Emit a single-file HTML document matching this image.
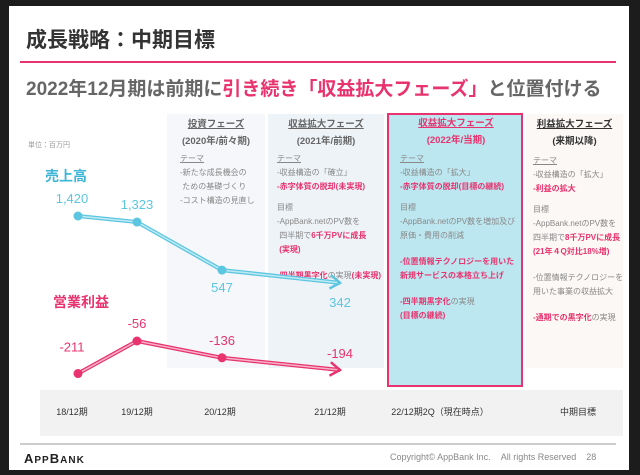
<!DOCTYPE html>
<html><head><meta charset="utf-8">
<style>
*{margin:0;padding:0;box-sizing:border-box}
body{width:640px;height:475px;background:#1c1c1c;font-family:"Liberation Sans","Noto Sans CJK JP",sans-serif;position:relative;overflow:hidden}
.slide{position:absolute;left:9px;top:6px;width:620px;height:464px;background:#fff}
.abs{position:absolute}
.t{font-size:8px;color:#888;line-height:14px;white-space:nowrap}
.p{color:#e8336e;font-weight:bold}
.h{font-size:9.5px;font-weight:bold;color:#666;text-align:center;line-height:17px}
</style></head><body>
<div class="slide"></div>
<div class="abs" style="left:26px;top:24px;font-size:21px;font-weight:bold;color:#333">成長戦略：中期目標</div>
<div class="abs" style="left:20px;top:61px;width:596px;height:2px;background:#e8336e"></div>
<div class="abs" style="left:26px;top:74px;font-size:19px;font-weight:bold;color:#666;white-space:nowrap">2022年12月期は前期に<span style="color:#e8336e">引き続き「収益拡大フェーズ」</span>と位置付ける</div>

<div class="abs" style="left:167px;top:114px;width:98px;height:254px;background:#f5f7fa"></div>
<div class="abs" style="left:268px;top:114px;width:116px;height:254px;background:#eef3f7"></div>
<div class="abs" style="left:387px;top:113px;width:136px;height:274px;background:#bde7f0;border:2px solid #e8336e"></div>
<div class="abs" style="left:526px;top:114px;width:97px;height:254px;background:#fcf8f5"></div>

<div class="abs h" style="left:167px;top:116px;width:98px"><u>投資フェーズ</u><br>(2020年/前々期)</div>
<div class="abs t" style="left:180px;top:152px"><u>テーマ</u><br>-新たな成長機会の<br>&nbsp;ための基礎づくり<br>-コスト構造の見直し</div>

<div class="abs h" style="left:268px;top:116px;width:116px"><u>収益拡大フェーズ</u><br>(2021年/前期)</div>
<div class="abs t" style="left:277px;top:152px"><u>テーマ</u><br>-収益構造の「確立」<br><span class="p">-赤字体質の脱却(未実現)</span><br><div style="height:7px"></div>目標<br>-AppBank.netのPV数を<br>&nbsp;四半期で<span class="p">6千万PVに成長</span><br><span class="p">&nbsp;(実現)</span><br><div style="height:12px"></div><span class="p">-四半期黒字化</span>の実現<span class="p">(未実現)</span></div>

<div class="abs h" style="left:389px;top:115px;width:134px;color:#e8336e"><u>収益拡大フェーズ</u><br>(2022年/当期)</div>
<div class="abs t" style="left:400px;top:152px"><u>テーマ</u><br>-収益構造の「拡大」<br><span class="p">-赤字体質の脱却(目標の継続)</span><br><div style="height:7px"></div>目標<br>-AppBank.netのPV数を増加及び<br>原価・費用の削減<br><div style="height:12px"></div><span class="p">-位置情報テクノロジーを用いた<br>新規サービスの本格立ち上げ</span><br><div style="height:12px"></div><span class="p">-四半期黒字化</span>の実現<br><span class="p">(目標の継続)</span></div>

<div class="abs h" style="left:526px;top:116px;width:97px;color:#333"><u>利益拡大フェーズ</u><br>(来期以降)</div>
<div class="abs t" style="left:533px;top:154px"><u>テーマ</u><br>-収益構造の「拡大」<br><span class="p">-利益の拡大</span><br><div style="height:7px"></div>目標<br>-AppBank.netのPV数を<br>四半期で<span class="p">8千万PVに成長</span><br><span class="p">(21年４Q対比18%増)</span><br><div style="height:12px"></div>-位置情報テクノロジーを<br>用いた事業の収益拡大<br><div style="height:12px"></div><span class="p">-通期での黒字化</span>の実現</div>

<div class="abs" style="left:28px;top:140px;font-size:7px;color:#999">単位：百万円</div>
<div class="abs" style="left:45px;top:166px;font-size:14px;font-weight:bold;color:#3bb6d8">売上高</div>
<div class="abs" style="left:53px;top:292px;font-size:14px;font-weight:bold;color:#e8336e">営業利益</div>

<div class="abs" style="left:40px;top:390px;width:583px;height:46px;background:#f2f2f2"></div>
<div id="xl"></div>

<svg class="abs" id="chart" style="left:0;top:0" width="640" height="475"></svg>

<div class="abs" style="left:20px;top:443px;width:596px;height:2px;background:#ccc"></div>
<div class="abs" style="left:24px;top:451px;font-size:13px;font-weight:bold;color:#222;letter-spacing:1px">A<span style="font-size:10px">PP</span>B<span style="font-size:10px">ANK</span></div>
<div class="abs" style="left:390px;top:452px;font-size:9px;color:#888;white-space:nowrap">Copyright© AppBank Inc.&nbsp;&nbsp;&nbsp;&nbsp;All rights Reserved&nbsp;&nbsp;&nbsp;&nbsp;28</div>

<script>
const categories=["18/12期","19/12期","20/12期","21/12期","22/12期2Q（現在時点）","中期目標"];
const salesValues=[1420,1323,547,342];
const salesLabels=["1,420","1,323","547","342"];
const profitValues=[-211,-56,-136,-194];
const profitLabels=["-211","-56","-136","-194"];
const catX=[72,137,220,330,440,578];
const xPoint=[78,137,222,340];
function xs(i){return xPoint[i];}
function ySales(v){return 216+(1420-v)*0.062;}
function yProfit(v){return 341+(-56-v)*0.21;}
const NS="http://www.w3.org/2000/svg";
const svg=document.getElementById('chart');
function mk(tag,attrs){const e=document.createElementNS(NS,tag);for(const k in attrs)e.setAttribute(k,attrs[k]);svg.appendChild(e);return e;}
const xl=document.getElementById('xl');
categories.forEach((c,i)=>{
  const d=document.createElement('div');
  d.className='abs';
  
  
  d.style.cssText='left:'+(catX[i]-60)+'px;width:120px;text-align:center;top:405px;font-size:9px;color:#333';
  d.textContent=c;xl.appendChild(d);
});
function series(vals,labels,yf,color,light,labelPos,name){
  const n=vals.length;
  const pts=vals.map((v,i)=>[xs(i),yf(v)]);
  const ds=pts.map(p=>p.join(',')).join(' ');
  const l=mk('polyline',{points:ds,fill:'none',stroke:color,'stroke-width':4});
  
  
  mk('polyline',{points:ds,fill:'none',stroke:light,'stroke-width':1.5});
  const a=pts[n-1],b=pts[n-2];
  const ang=Math.atan2(a[1]-b[1],a[0]-b[0]);
  const L=12,w=0.6;
  const p1=[a[0]-L*Math.cos(ang-w),a[1]-L*Math.sin(ang-w)];
  const p2=[a[0]-L*Math.cos(ang+w),a[1]-L*Math.sin(ang+w)];
  const ar=mk('polyline',{points:p1.join(',')+' '+a.join(',')+' '+p2.join(','),fill:'none',stroke:color,'stroke-width':2.5});
  
  
  pts.forEach((p,i)=>{
    if(i<n-1){
      const c=mk('circle',{cx:p[0],cy:p[1],r:4.5,fill:color});
      
      
    }
    const t=mk('text',{x:p[0]+(i==0?-6:0),y:p[1]+labelPos[i],'text-anchor':'middle','font-size':13,fill:color,'font-family':'Liberation Sans, sans-serif'});
    
    
    t.textContent=labels[i];
  });
}
series(salesValues,salesLabels,ySales,'#5cc6e0','#bfeaf4',[-13,-13,22,24],'sales');
series(profitValues,profitLabels,yProfit,'#e8336e','#f6b3c8',[-22,-13,-13,-12],'profit');
</script>
</body></html>
